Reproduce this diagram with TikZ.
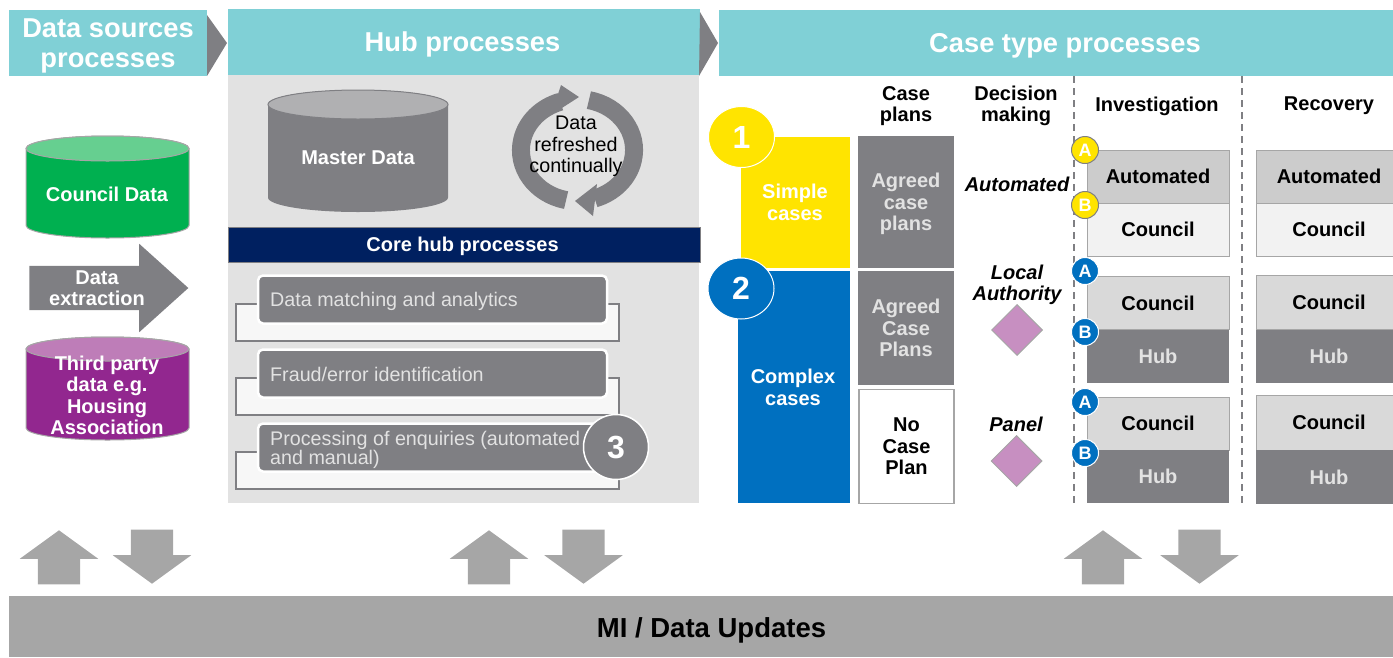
\documentclass[tikz,border=0pt]{standalone}
\usepackage{fontspec}
\setmainfont{Liberation Sans}
\usetikzlibrary{shapes.geometric,shapes.arrows}
\definecolor{hubteal}{HTML}{80D0D6}
\definecolor{hubgrey}{HTML}{7F7F83}
\definecolor{panelgrey}{HTML}{E2E2E2}
\definecolor{arrowgrey}{HTML}{A6A6A6}
\definecolor{hubnavy}{HTML}{002060}
\definecolor{caseyellow}{HTML}{FFE400}
\definecolor{caseblue}{HTML}{0070C0}
\definecolor{diamondpink}{HTML}{C78FC1}
\definecolor{councilgreen}{HTML}{00B050}
\definecolor{counciltop}{HTML}{66CF90}
\definecolor{partypurple}{HTML}{92278F}
\definecolor{partytop}{HTML}{BE7DB8}
\definecolor{mastertop}{HTML}{B0B0B2}
\begin{document}
\begin{tikzpicture}[x=1pt,y=-1pt]
	\tikzstyle{block} = [rectangle, inner sep=0pt, outer sep=0pt, align=center]
	\tikzstyle{txt} = [inner sep=0pt, align=center, font=\fontsize{19.7}{21.5}\selectfont]
	\tikzstyle{btxt} = [txt, font=\fontsize{20}{21.5}\selectfont\bfseries]
	\tikzstyle{head} = [block, fill=hubteal, text=white, text depth=0pt, font=\fontsize{27.3}{30}\selectfont\bfseries]
	\tikzstyle{upar} = [single arrow, draw=none, fill=arrowgrey, shape border rotate=90, minimum height=54pt, single arrow head extend=18pt, single arrow head indent=0pt, single arrow tip angle=108, inner sep=0pt]
	\tikzstyle{downar} = [upar, shape border rotate=270]
	\tikzstyle{case} = [block, fill=hubgrey, text=panelgrey, minimum width=96pt, font=\fontsize{20}{21.5}\selectfont\bfseries]
	\tikzstyle{rowbox} = [block, draw=white, line width=2.5pt, rounded corners=5pt, fill=hubgrey, minimum width=349pt, minimum height=48pt]
	\tikzstyle{bracket} = [block, draw=hubgrey, line width=2.5pt, fill=white!97!black, minimum width=383pt, minimum height=37pt]
	\tikzstyle{stage} = [block, draw=arrowgrey, line width=1pt, minimum width=142pt, minimum height=53pt, font=\fontsize{20}{21.5}\selectfont\bfseries]
	\tikzstyle{badge} = [circle, draw=hubgrey, line width=1pt, inner sep=0pt, minimum size=27pt, text=white, font=\fontsize{18}{18}\selectfont\bfseries]
	\tikzstyle{pick} = [diamond, aspect=1, draw=arrowgrey, line width=1pt, fill=diamondpink, inner sep=0pt, minimum size=51pt]
	\tikzstyle{number} = [ellipse, draw=white, line width=1pt, text=white, inner sep=0pt, minimum width=66pt, minimum height=61pt, font=\fontsize{32}{32}\selectfont\bfseries]

	\useasboundingbox (0,0) rectangle (1393,657);

	\node[head, minimum width=198pt, minimum height=66pt] (DS) at (108,43) {Data sources\\processes};
	\node[head, minimum width=472pt, minimum height=66pt] (HP) at (464,42) {\hspace*{-3pt}Hub processes};
	\node[head, minimum width=674pt, minimum height=66pt] (CP) at (1056,43) {\hspace*{18pt}Case type processes};
	\fill[hubgrey] (DS.north east) ++(0,5) -- (227,43) -- (DS.south east) -- cycle;
	\fill[hubgrey] (HP.north east) ++(0,3) -- (718,43) -- (699,76) -- cycle;

	\filldraw[draw=arrowgrey, line width=1pt, fill=councilgreen] (26,148.5) -- (26,225.5) arc[start angle=180, end angle=360, x radius=81.5pt, y radius=12.5pt] -- (189,148.5) arc[start angle=0, end angle=180, x radius=81.5pt, y radius=12.5pt] -- cycle;
	\filldraw[draw=arrowgrey, line width=1pt, fill=counciltop] (107.5,148.5) ellipse[x radius=81.5pt, y radius=12.5pt];
	\node[btxt, text=white] (CDT) at (107,194) {Council Data};
	\node[single arrow, fill=hubgrey, minimum height=159pt, single arrow head extend=22pt, single arrow head indent=0pt, single arrow tip angle=84, inner sep=0pt] (DE) at (96.5,288) {\rule{0pt}{44pt}};
	\node[btxt, text=white] (DET) at (97,288) {Data\\extraction};
	\filldraw[draw=arrowgrey, line width=1pt, fill=partypurple] (26,349) -- (26,428) arc[start angle=180, end angle=360, x radius=81.5pt, y radius=12pt] -- (189,349) arc[start angle=0, end angle=180, x radius=81.5pt, y radius=12pt] -- cycle;
	\filldraw[draw=arrowgrey, line width=1pt, fill=partytop] (107.5,349) ellipse[x radius=81.5pt, y radius=12pt];
	\node[btxt, text=white] (TPT) at (107,395.5) {Third party\\data e.g.\\Housing\\Association};

	\node[block, fill=panelgrey, minimum width=471pt, minimum height=428pt] (HB) at (463.5,289) {};
	\fill[hubgrey] (268,104.5) -- (268,197.5) arc[start angle=180, end angle=360, x radius=90pt, y radius=14.5pt] -- (448,104.5) arc[start angle=0, end angle=180, x radius=90pt, y radius=14.5pt] -- cycle;
	\filldraw[draw=hubgrey, line width=1pt, fill=mastertop] (358,104.5) ellipse[x radius=90pt, y radius=14.5pt];
	\node[btxt, text=white] (MDT) at (358,158) {Master Data};

	\draw[hubgrey, line width=18pt] (588.9,100.1) arc[start angle=78, end angle=-72, x radius=57pt, y radius=51pt];
	\fill[hubgrey] (575,201) -- (593,216) -- (597,184) -- cycle;
	\draw[hubgrey, line width=18pt] (566.1,200.1) arc[start angle=258, end angle=108, x radius=57pt, y radius=51pt];
	\fill[hubgrey] (579,97) -- (561,85) -- (551,115) -- cycle;
	\node[txt, text=black] (RF) at (576,146.5) {Data\\refreshed\\continually};

	\node[block, draw=hubgrey, line width=1pt, fill=hubnavy, text=white, minimum width=472pt, minimum height=35pt, text depth=0pt, font=\fontsize{20}{21.5}\selectfont\bfseries] (CH) at (464,244.5) {\hspace*{-3pt}Core hub processes};

	\node[bracket] (B1) at (427.5,322.5) {};
	\node[rowbox] (R1) at (432.5,299.5) {};
	\node[txt, anchor=west, text=panelgrey] (R1T) at (270,301) {Data matching and analytics};
	\node[bracket] (B2) at (427.5,396.5) {};
	\node[rowbox] (R2) at (432.5,373.5) {};
	\node[txt, anchor=west, text=panelgrey] (R2T) at (270,374) {Fraud/error identification};
	\node[bracket] (B3) at (427.5,470.5) {};
	\node[rowbox] (R3) at (432.5,447.5) {};
	\node[txt, anchor=west, align=left, text=panelgrey, font=\fontsize{19.7}{19}\selectfont] (R3T) at (270,449.5) {Processing of enquiries (automated\\and manual)};
	\node[circle, draw=white, line width=1.5pt, fill=hubgrey, text=white, inner sep=0pt, minimum size=65pt, font=\fontsize{32}{32}\selectfont\bfseries] (C3) at (616,447) {3};

	\node[btxt] (H1) at (906,106) {Case\\plans};
	\node[btxt] (H2) at (1016,106) {Decision\\making};
	\node[btxt] (H3) at (1157,106) {Investigation};
	\node[btxt] (H4) at (1329,106) {Recovery};
	\draw[dashed, dash pattern=on 7pt off 5pt, hubgrey, line width=1.3pt] (1074,76) -- (1074,503);
	\draw[dashed, dash pattern=on 7pt off 5pt, hubgrey, line width=1.3pt] (1242,76) -- (1242,503);

	\node[block, fill=caseyellow, minimum width=109pt, minimum height=131pt] (SC) at (795.5,202.5) {};
	\node[block, fill=caseblue, minimum width=112pt, minimum height=232pt] (CC) at (794,387) {};
	\node[btxt, text=white] (SCT) at (795,202.5) {Simple\\cases};
	\node[btxt, text=white] (CCT) at (793,387.5) {Complex\\cases};
	\node[number, fill=caseyellow] (N1) at (741.5,137) {1};
	\node[number, fill=caseblue] (N2) at (741,288.5) {2};

	\node[case, minimum height=132pt, text depth=-2pt] (P1) at (906,202) {Agreed\\case\\plans};
	\node[case, minimum height=114pt] (P2) at (906,328) {Agreed\\Case\\Plans};
	\node[case, fill=white, draw=arrowgrey, line width=1.5pt, text=black, minimum width=95pt, minimum height=114pt, text depth=0pt] (P3) at (906.5,446.5) {No\\Case\\Plan};

	\node[btxt, font=\fontsize{20}{21.5}\selectfont\bfseries\itshape] (D1) at (1017,184) {Automated};
	\node[btxt, font=\fontsize{20}{21.5}\selectfont\bfseries\itshape] (D2) at (1017,285) {Local\\Authority};
	\node[pick] (D2P) at (1017,330) {};
	\node[btxt, font=\fontsize{20}{21.5}\selectfont\bfseries\itshape] (D3) at (1016,424) {Panel};
	\node[pick] (D3P) at (1016.5,461) {};

	\node[stage, fill=black!20] (I1) at (1158,176.5) {Automated};
	\node[stage, fill=black!5] (I2) at (1158,229.5) {Council};
	\node[stage, fill=black!15] (I3) at (1158,303) {Council};
	\node[stage, draw=none, fill=hubgrey, text=panelgrey] (I4) at (1158,356) {Hub};
	\node[stage, fill=black!15] (I5) at (1158,423.5) {Council};
	\node[stage, draw=none, fill=hubgrey, text=panelgrey] (I6) at (1158,476.5) {Hub};
	\node[stage, fill=black!20, minimum width=146pt] (V1) at (1329,176.5) {Automated};
	\node[stage, fill=black!5, minimum width=146pt] (V2) at (1329,229.5) {Council};
	\node[stage, fill=black!15, minimum width=146pt, minimum height=54pt] (V3) at (1329,302) {Council};
	\node[stage, draw=none, fill=hubgrey, text=panelgrey, minimum width=146pt] (V4) at (1329,356) {Hub};
	\node[stage, fill=black!15, minimum width=146pt, minimum height=55pt] (V5) at (1329,422.5) {Council};
	\node[stage, draw=none, fill=hubgrey, text=panelgrey, minimum width=146pt, minimum height=54pt] (V6) at (1329,477) {Hub};

	\node[badge, fill=caseyellow] (A1) at (1085,150) {A};
	\node[badge, fill=caseyellow] (B1a) at (1085,205) {B};
	\node[badge, fill=caseblue, draw=white] (A2) at (1085,271) {A};
	\node[badge, fill=caseblue, draw=white] (B2a) at (1085,332) {B};
	\node[badge, fill=caseblue, draw=white] (A3) at (1085,402) {A};
	\node[badge, fill=caseblue, draw=white] (B3a) at (1085,453) {B};

	\node[upar] (U1) at (59,565) {\rule{42pt}{0pt}};
	\node[downar] (W1) at (152,549) {\rule{42pt}{0pt}};
	\node[upar] (U2) at (489,565) {\rule{42pt}{0pt}};
	\node[downar] (W2) at (583.5,549) {\rule{42pt}{0pt}};
	\node[upar] (U3) at (1103,565) {\rule{42pt}{0pt}};
	\node[downar] (W3) at (1199.5,549) {\rule{42pt}{0pt}};

	\node[block, fill=arrowgrey, text=black, minimum width=1384pt, minimum height=61pt, text depth=0pt, font=\fontsize{27.5}{28}\selectfont\bfseries] (MI) at (701,626.5) {\hspace*{21pt}\raisebox{-2.5pt}{MI / Data Updates}};
\end{tikzpicture}
\end{document}
